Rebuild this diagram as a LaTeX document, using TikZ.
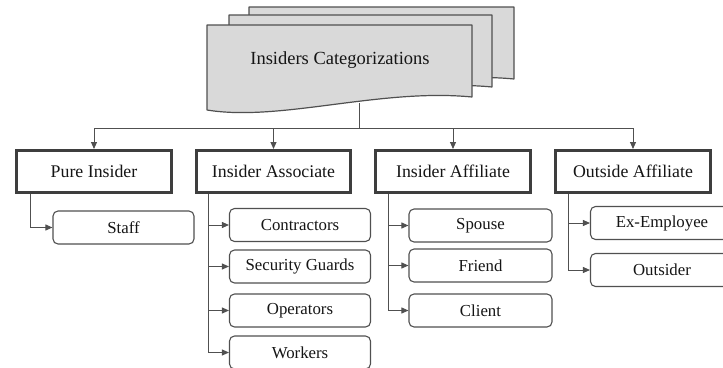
\documentclass[tikz,border=0pt]{standalone}
\usepackage{fontspec}
\setmainfont{Liberation Serif}
\usetikzlibrary{arrows.meta}

\definecolor{linegray}{HTML}{505050}
\definecolor{framegray}{HTML}{3E3E3E}
\definecolor{sheetfill}{HTML}{D9D9D9}
\definecolor{inkgray}{HTML}{151515}

\tikzset{
  sheet/.style={draw=linegray, line width=1.2pt, fill=sheetfill, line join=round},
  header/.style={draw=framegray, line width=3pt, fill=white, minimum width=155pt,
    minimum height=42pt, inner sep=0pt, text=inkgray, font=\fontsize{17.8}{20}\selectfont},
  leaf/.style={draw=linegray, line width=1.1pt, rounded corners=5pt, fill=white,
    minimum width=141pt, minimum height=33pt, inner sep=0pt, text=inkgray,
    font=\fontsize{16.8}{19}\selectfont},
  link/.style={draw=linegray, line width=0.9pt},
  arr/.style={link, -{Triangle[length=7pt,width=6pt]}},
}

\begin{document}
\begin{tikzpicture}[x=1pt, y=-1pt]
  \useasboundingbox (0,0) rectangle (723,367);
  \clip (0,0) rectangle (723,367);

  % stacked document sheets, back to front
  \draw[sheet] (249,7) -- (514,7) -- (514,79)
    .. controls (420,70) and (320,104) .. (249,92) -- cycle;
  \draw[sheet] (229,15) -- (492,15) -- (492,87)
    .. controls (400,78) and (300,112) .. (229,100) -- cycle;
  \draw[sheet] (207,25) -- (472,25) -- (472,97)
    .. controls (380,88) and (280,122) .. (207,110) -- cycle;
  \node[text=inkgray, font=\fontsize{18.5}{21}\selectfont] (title) at (340,60)
    {Insiders Categorizations};
  \coordinate (docbot) at (359,103);
  \coordinate (bus) at (359,128);

  % category boxes
  \node[header] (pure)    at (94,171.5)  {Pure Insider};
  \node[header, minimum width=154pt] (assoc) at (273.5,171.5) {Insider Associate};
  \node[header] (affil)   at (453,171.5) {Insider Affiliate};
  \node[header] (outside) at (633,171.5) {Outside Affiliate};

  % members
  \node[leaf] (staff)    at (123.5,227.5) {Staff};
  \node[leaf] (contr)    at (300,225)     {Contractors};
  \node[leaf] (guards)   at (300,266.5)   {Security Guards};
  \node[leaf] (oper)     at (300,310.5)   {Operators};
  \node[leaf] (workers)  at (300,352.5)   {Workers};
  \node[leaf, minimum width=143pt] (spouse) at (480.5,225.5) {Spouse};
  \node[leaf, minimum width=143pt] (friend) at (480.5,265.5) {Friend};
  \node[leaf, minimum width=143pt] (client) at (480.5,310.5) {Client};
  \node[leaf, minimum width=143pt] (exemp)  at (662,223)     {Ex-Employee};
  \node[leaf, minimum width=143pt] (outsider) at (662,270)   {Outsider};

  % distribution bus
  \draw[link] (docbot) -- (bus);
  \draw[link] (pure.north |- bus) -- (outside.north |- bus);
  \foreach \n in {pure,assoc,affil,outside}
    \draw[arr] (\n.north |- bus) -- (\n.north);

  % trunks from each category to its members
  \coordinate (tpure)  at ([xshift=15pt]pure.south west);
  \coordinate (tassoc) at ([xshift=13pt]assoc.south west);
  \coordinate (taffil) at ([xshift=14pt]affil.south west);
  \coordinate (tout)   at ([xshift=14pt]outside.south west);

  \draw[arr] (tpure) |- (staff.west);
  \foreach \m in {contr,guards,oper,workers}
    \draw[arr] (tassoc) |- (\m.west);
  \foreach \m in {spouse,friend,client}
    \draw[arr] (taffil) |- (\m.west);
  \foreach \m in {exemp,outsider}
    \draw[arr] (tout) |- (\m.west);
\end{tikzpicture}
\end{document}
